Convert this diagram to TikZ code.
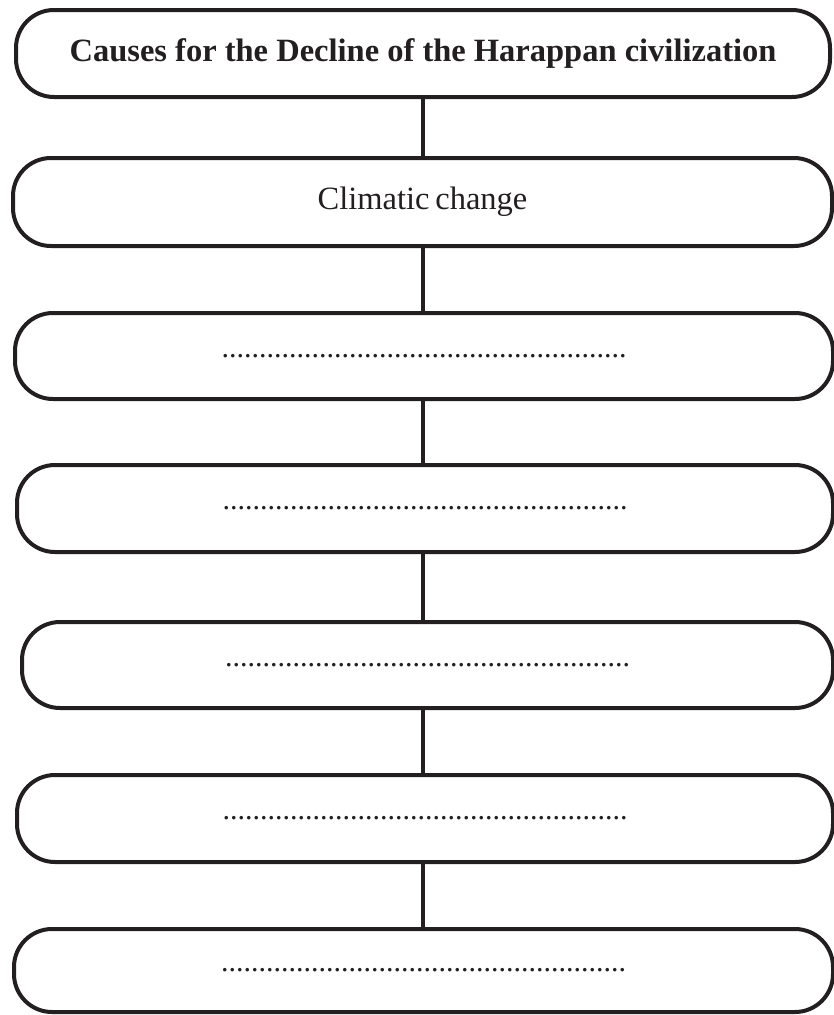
\documentclass[tikz,border=0pt]{standalone}
\usepackage{fontspec}
\setmainfont{Liberation Serif}
\definecolor{ink}{HTML}{231F20}
\begin{document}
\begin{tikzpicture}[x=1pt,y=-1pt,
  causebox/.style={draw=ink, line width=4pt, rectangle, rounded corners=38pt,
    inner sep=0pt, outer sep=0pt, font=\fontsize{30}{34}\selectfont, text=ink},
  bigtext/.style={font=\fontsize{32.5}{36}\selectfont},
  link/.style={draw=ink, line width=4pt}]
\useasboundingbox (0,0) rectangle (834,1015);
\coordinate (cx) at (423,0);
\node[causebox, bigtext, minimum width=814pt, minimum height=87pt] (b1) at (423,53.5)
  {\textbf{Causes for the Decline of the Harappan civilization}};
\node[causebox, bigtext, minimum width=819pt, minimum height=88pt] (b2) at (422.5,202)
  {Climatic\hspace{0.18em}change};
\node[causebox, minimum width=818pt, minimum height=86pt] (b3) at (424,356)
  {......................................................};
\node[causebox, minimum width=816pt, minimum height=87pt] (b4) at (425,508.5)
  {......................................................};
\node[causebox, minimum width=811pt, minimum height=86pt] (b5) at (427.5,665)
  {......................................................};
\node[causebox, minimum width=816pt, minimum height=87pt] (b6) at (425,818.5)
  {......................................................};
\node[causebox, minimum width=819pt, minimum height=83pt] (b7) at (423.5,970.5)
  {......................................................};
\foreach \a/\b in {b1/b2,b2/b3,b3/b4,b4/b5,b5/b6,b6/b7}
  \draw[link] (cx |- \a.south) -- (cx |- \b.north);
\end{tikzpicture}
\end{document}
